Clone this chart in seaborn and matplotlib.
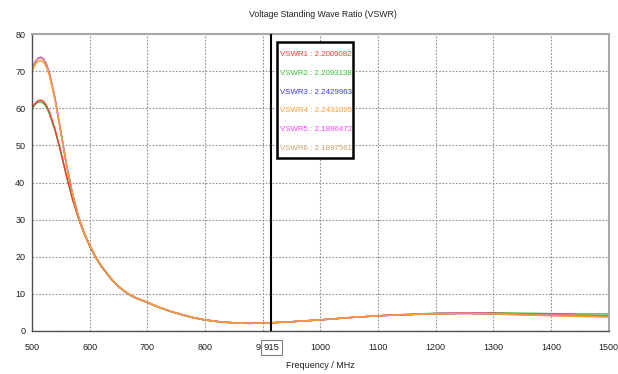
import matplotlib
matplotlib.use("Agg")
import matplotlib.pyplot as plt
import matplotlib.transforms as mtransforms
from matplotlib.patches import Rectangle
import seaborn as sns
import pandas as pd

freq = [500, 505, 510, 515, 520, 525, 530, 540, 550, 560, 570, 580, 590, 600, 610, 620, 630, 640,
        650, 660, 670, 680, 690, 700, 720, 740, 760, 780, 800, 825, 850, 875, 900, 915, 950, 1000,
        1050, 1100, 1150, 1200, 1250, 1300, 1350, 1400, 1450, 1500]

vswr1 = [60.2, 61.3, 62.0, 62.2, 61.8, 60.7, 59.0, 54.2, 48.2, 41.6, 35.6, 30.6, 26.4, 22.9, 19.9, 17.4,
         15.4, 13.5, 12.0, 10.7, 9.7, 8.9, 8.3, 7.7, 6.4, 5.3, 4.4, 3.6, 3.0, 2.5, 2.2, 2.05, 2.1, 2.2,
         2.5, 3.0, 3.6, 4.1, 4.4, 4.7, 4.8, 4.8, 4.6, 4.4, 4.2, 4.1]
vswr2 = [59.8, 61.0, 61.6, 61.7, 61.3, 60.2, 58.5, 53.8, 47.8, 41.3, 35.4, 30.4, 26.2, 22.7, 19.8, 17.3,
         15.3, 13.4, 11.9, 10.6, 9.6, 8.8, 8.2, 7.6, 6.3, 5.2, 4.3, 3.5, 2.9, 2.4, 2.15, 2.05, 2.1, 2.21,
         2.5, 3.0, 3.6, 4.1, 4.5, 4.8, 4.9, 4.9, 4.8, 4.7, 4.6, 4.6]
vswr3 = [70.5, 72.4, 73.4, 73.7, 73.2, 71.7, 69.4, 62.4, 53.4, 44.4, 37.0, 31.0, 26.5, 23.0, 20.0, 17.5,
         15.5, 13.5, 12.0, 10.7, 9.7, 8.9, 8.3, 7.7, 6.4, 5.3, 4.4, 3.6, 3.0, 2.5, 2.2, 2.05, 2.1, 2.24,
         2.5, 3.0, 3.6, 4.1, 4.4, 4.6, 4.7, 4.6, 4.4, 4.2, 4.0, 3.9]
vswr4 = [70.0, 71.7, 72.6, 72.8, 72.4, 71.0, 68.8, 62.0, 53.2, 44.3, 36.9, 31.0, 26.5, 23.1, 20.1, 17.6,
         15.6, 13.6, 12.1, 10.8, 9.8, 9.0, 8.3, 7.7, 6.4, 5.3, 4.4, 3.6, 3.0, 2.5, 2.2, 2.06, 2.1, 2.24,
         2.5, 3.0, 3.6, 4.1, 4.4, 4.6, 4.7, 4.6, 4.3, 4.1, 3.9, 3.8]
vswr5 = [70.6, 72.5, 73.5, 73.8, 73.3, 71.8, 69.5, 62.5, 53.5, 44.5, 37.0, 31.0, 26.5, 23.0, 20.0, 17.5,
         15.5, 13.5, 12.0, 10.7, 9.7, 8.9, 8.3, 7.7, 6.4, 5.3, 4.4, 3.6, 3.0, 2.5, 2.2, 2.05, 2.1, 2.19,
         2.5, 3.0, 3.6, 4.1, 4.4, 4.7, 4.8, 4.7, 4.5, 4.3, 4.0, 3.9]
vswr6 = [70.4, 72.3, 73.3, 73.6, 73.1, 71.6, 69.3, 62.3, 53.4, 44.4, 37.0, 31.0, 26.5, 23.0, 20.0, 17.5,
         15.5, 13.5, 12.0, 10.7, 9.7, 8.9, 8.3, 7.7, 6.4, 5.3, 4.4, 3.6, 3.0, 2.5, 2.2, 2.05, 2.1, 2.19,
         2.5, 3.0, 3.6, 4.1, 4.4, 4.7, 4.8, 4.7, 4.5, 4.3, 4.0, 3.9]

series_names = ["VSWR1", "VSWR2", "VSWR3", "VSWR4", "VSWR5", "VSWR6"]
marker_values = ["2.2009082", "2.2093138", "2.2429963", "2.2431095", "2.1896472", "2.1897561"]
colors = ["#ff3535", "#35c035", "#3535ff", "#ff9a30", "#ff40ff", "#c8a070"]
draw_order = ["VSWR3", "VSWR2", "VSWR1", "VSWR5", "VSWR6", "VSWR4"]
marker_freq = 915
x_ticks = [500, 600, 700, 800, 900, 1000, 1100, 1200, 1300, 1400, 1500]
y_ticks = [0, 10, 20, 30, 40, 50, 60, 70, 80]

data = {"VSWR1": vswr1, "VSWR2": vswr2, "VSWR3": vswr3,
        "VSWR4": vswr4, "VSWR5": vswr5, "VSWR6": vswr6}
frames = []
for name in draw_order:
    frames.append(pd.DataFrame({"freq": freq, "vswr": data[name], "series": name}))
df = pd.concat(frames, ignore_index=True)

sns.set_theme(style="white")
plt.rcParams["font.family"] = ["Liberation Sans", "DejaVu Sans"]

fig = plt.figure(figsize=(6.18, 3.74), dpi=100)
ax = fig.add_axes([0.052, 0.115, 0.933, 0.794])

palette = dict(zip(series_names, colors))
sns.lineplot(data=df, x="freq", y="vswr", hue="series", hue_order=draw_order,
             palette=palette, ax=ax, linewidth=1.0, legend=False, sort=False,
             estimator=None)

ax.set_xlim(500, 1500)
ax.set_ylim(0, 80)
ax.set_xticks(x_ticks)
ax.set_yticks(y_ticks)
ax.grid(True, linestyle=(0, (1.5, 1.5)), color="#909090", linewidth=0.8)
ax.tick_params(axis="both", labelsize=6.5, length=3, width=0.8, color="#404040",
               labelcolor="#202020", pad=2)
ax.tick_params(axis="x", pad=6)
for s in ["left", "bottom"]:
    ax.spines[s].set_color("#505050")
    ax.spines[s].set_linewidth(1.0)
for s in ["top", "right"]:
    ax.spines[s].set_color("#a8a8a8")
    ax.spines[s].set_linewidth(1.5)

ax.set_xlabel("Frequency / MHz", fontsize=6.5, color="#202020", labelpad=6)
ax.set_ylabel("")
fig.text(0.523, 0.962, "Voltage Standing Wave Ratio (VSWR)", ha="center", va="center",
         fontsize=6.3, color="#202020")

ax.axvline(marker_freq, color="black", linewidth=1.5, zorder=5)
trans = mtransforms.blended_transform_factory(ax.transData, ax.transAxes)
ax.text(marker_freq, -0.055, str(marker_freq), transform=trans, ha="center", va="center",
        fontsize=6.8, color="#202020", zorder=10, clip_on=False,
        bbox=dict(boxstyle="square,pad=0.3", fc="white", ec="#808080", lw=0.8))

# marker readout box
ax.add_patch(Rectangle((0.448, 0.577), 0.124, 0.31, transform=fig.transFigure,
                       fc="white", ec="black", lw=1.8, zorder=20, clip_on=False))
y0 = 0.855
for i, (name, val, c) in enumerate(zip(series_names, marker_values, colors)):
    ax.text(0.4525, y0 - i * 0.0505, f"{name} : {val}", color=c, fontsize=5.7,
            ha="left", va="center", zorder=21, transform=fig.transFigure)

fig.savefig("out.png", dpi=100)
